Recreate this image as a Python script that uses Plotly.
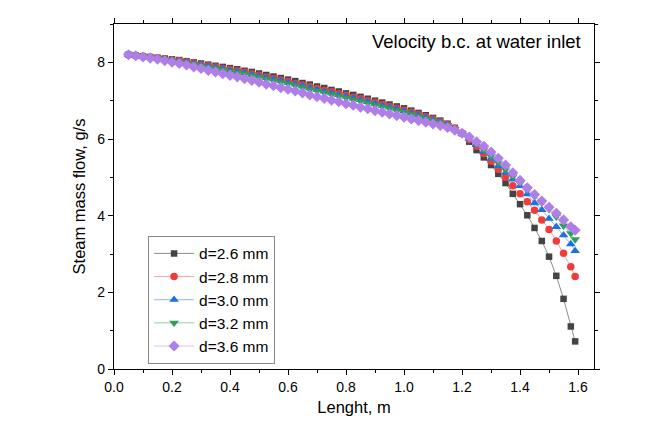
import plotly.graph_objects as go

length_m = [0.05, 0.075, 0.1, 0.125, 0.15, 0.175, 0.2, 0.225, 0.25, 0.275,
            0.3, 0.325, 0.35, 0.375, 0.4, 0.425, 0.45, 0.475, 0.5, 0.525,
            0.55, 0.575, 0.6, 0.625, 0.65, 0.675, 0.7, 0.725, 0.75, 0.775,
            0.8, 0.825, 0.85, 0.875, 0.9, 0.925, 0.95, 0.975, 1.0, 1.025,
            1.05, 1.075, 1.1, 1.125, 1.15, 1.175, 1.2, 1.225, 1.25, 1.275,
            1.3, 1.325, 1.35, 1.375, 1.4, 1.425, 1.45, 1.475, 1.5, 1.525,
            1.55, 1.575, 1.59]

flow_d26 = [8.20, 8.18, 8.16, 8.14, 8.12, 8.10, 8.08, 8.06, 8.03, 8.00,
            7.97, 7.94, 7.91, 7.88, 7.85, 7.82, 7.78, 7.75, 7.71, 7.67,
            7.63, 7.59, 7.55, 7.51, 7.46, 7.42, 7.37, 7.33, 7.28, 7.24,
            7.19, 7.15, 7.10, 7.05, 7.00, 6.95, 6.90, 6.85, 6.80, 6.74,
            6.68, 6.62, 6.55, 6.48, 6.40, 6.29, 6.15, 5.93, 5.71, 5.52,
            5.32, 5.09, 4.85, 4.57, 4.30, 4.01, 3.68, 3.34, 2.93, 2.43,
            1.83, 1.11, 0.72]

flow_d28 = [8.20, 8.18, 8.16, 8.13, 8.11, 8.09, 8.07, 8.04, 8.01, 7.98,
            7.94, 7.91, 7.88, 7.84, 7.81, 7.78, 7.74, 7.70, 7.66, 7.62,
            7.58, 7.54, 7.50, 7.45, 7.41, 7.36, 7.32, 7.27, 7.23, 7.18,
            7.14, 7.09, 7.05, 7.00, 6.95, 6.90, 6.85, 6.80, 6.75, 6.70,
            6.64, 6.58, 6.52, 6.45, 6.38, 6.28, 6.15, 5.99, 5.81, 5.62,
            5.42, 5.21, 5.00, 4.78, 4.57, 4.36, 4.14, 3.89, 3.64, 3.34,
            3.02, 2.67, 2.41]

flow_d30 = [8.20, 8.18, 8.15, 8.13, 8.11, 8.08, 8.06, 8.03, 8.00, 7.96,
            7.93, 7.90, 7.86, 7.83, 7.79, 7.76, 7.72, 7.68, 7.64, 7.60,
            7.56, 7.52, 7.47, 7.43, 7.38, 7.33, 7.29, 7.24, 7.20, 7.15,
            7.11, 7.06, 7.02, 6.97, 6.92, 6.87, 6.83, 6.78, 6.73, 6.67,
            6.62, 6.56, 6.50, 6.44, 6.37, 6.27, 6.15, 6.01, 5.85, 5.67,
            5.49, 5.30, 5.12, 4.95, 4.78, 4.56, 4.33, 4.15, 3.92, 3.71,
            3.49, 3.26, 3.08]

flow_d32 = [8.20, 8.18, 8.15, 8.13, 8.10, 8.07, 8.05, 8.01, 7.98, 7.95,
            7.91, 7.87, 7.84, 7.80, 7.76, 7.73, 7.69, 7.65, 7.61, 7.56,
            7.52, 7.48, 7.44, 7.39, 7.34, 7.29, 7.25, 7.20, 7.16, 7.11,
            7.07, 7.02, 6.98, 6.93, 6.88, 6.84, 6.79, 6.74, 6.70, 6.64,
            6.59, 6.53, 6.48, 6.42, 6.36, 6.26, 6.15, 6.02, 5.88, 5.72,
            5.55, 5.38, 5.20, 5.02, 4.85, 4.67, 4.50, 4.34, 4.17, 3.97,
            3.74, 3.54, 3.38]

flow_d36 = [8.20, 8.17, 8.14, 8.11, 8.08, 8.04, 8.00, 7.97, 7.93, 7.88,
            7.84, 7.79, 7.75, 7.70, 7.66, 7.62, 7.57, 7.53, 7.48, 7.43,
            7.39, 7.34, 7.30, 7.25, 7.20, 7.15, 7.10, 7.06, 7.01, 6.97,
            6.92, 6.88, 6.83, 6.79, 6.74, 6.70, 6.65, 6.61, 6.57, 6.52,
            6.48, 6.44, 6.39, 6.35, 6.30, 6.23, 6.15, 6.05, 5.93, 5.81,
            5.66, 5.50, 5.32, 5.12, 4.92, 4.73, 4.55, 4.38, 4.22, 4.06,
            3.89, 3.71, 3.62]

series_names = ["d=2.6 mm", "d=2.8 mm", "d=3.0 mm", "d=3.2 mm", "d=3.6 mm"]
series_values = [flow_d26, flow_d28, flow_d30, flow_d32, flow_d36]
marker_colors = ["#444444", "#f03c3c", "#1f6fe5", "#2e9e58", "#b07ee8"]
line_colors = ["#8c8c8c", "#f7a3a3", "#8fb6f2", "#8fd0a8", "#d9c0f4"]
symbols = ["square", "circle", "triangle-up", "triangle-down", "diamond"]
sizes = [6.5, 7.5, 8.5, 8.5, 8.5]

fig = go.Figure()
for name, vals, mc, lc, sym, sz in zip(series_names, series_values, marker_colors,
                                       line_colors, symbols, sizes):
    fig.add_trace(go.Scatter(
        x=length_m, y=vals, name=name, mode="lines+markers",
        line=dict(color=lc, width=1),
        marker=dict(symbol=sym, size=sz, color=mc, line=dict(width=0)),
    ))

axis_font = dict(family="Liberation Sans, Arial, sans-serif", size=14, color="#000")

fig.update_layout(
    width=662, height=432,
    margin=dict(l=114, r=68, t=24, b=63),
    paper_bgcolor="white", plot_bgcolor="white",
    font=dict(family="Liberation Sans, Arial, sans-serif", color="#000"),
    xaxis=dict(
        range=[0, 1.655], tick0=0, dtick=0.2, tickformat=".1f",
        showline=True, linecolor="#000", linewidth=1.2, mirror="ticks",
        ticks="outside", ticklen=5, tickwidth=1, tickcolor="#000",
        minor=dict(dtick=0.1, ticks="outside", ticklen=3, tickcolor="#000"),
        showgrid=False, zeroline=False, tickfont=axis_font,
        title=dict(text="Lenght, m", font=dict(size=16.5), standoff=7),
    ),
    yaxis=dict(
        range=[0, 9], tick0=0, dtick=2,
        showline=True, linecolor="#000", linewidth=1.2, mirror="ticks",
        ticks="outside", ticklen=5, tickwidth=1, tickcolor="#000",
        minor=dict(dtick=1, ticks="outside", ticklen=3, tickcolor="#000"),
        showgrid=False, zeroline=False, tickfont=axis_font,
        title=dict(text="Steam mass flow, g/s", font=dict(size=16.5), standoff=7),
    ),
    legend=dict(
        x=0.071, y=0.386, xanchor="left", yanchor="top",
        bgcolor="white", bordercolor="#888", borderwidth=1,
        font=dict(size=15.5), tracegroupgap=0, itemwidth=40,
    ),
    annotations=[dict(
        text="Velocity b.c. at water inlet", x=0.977, y=0.95,
        xref="paper", yref="paper", xanchor="right", yanchor="middle",
        showarrow=False, font=dict(size=18.5, color="#000"),
    )],
)

fig.write_html("out.html")
